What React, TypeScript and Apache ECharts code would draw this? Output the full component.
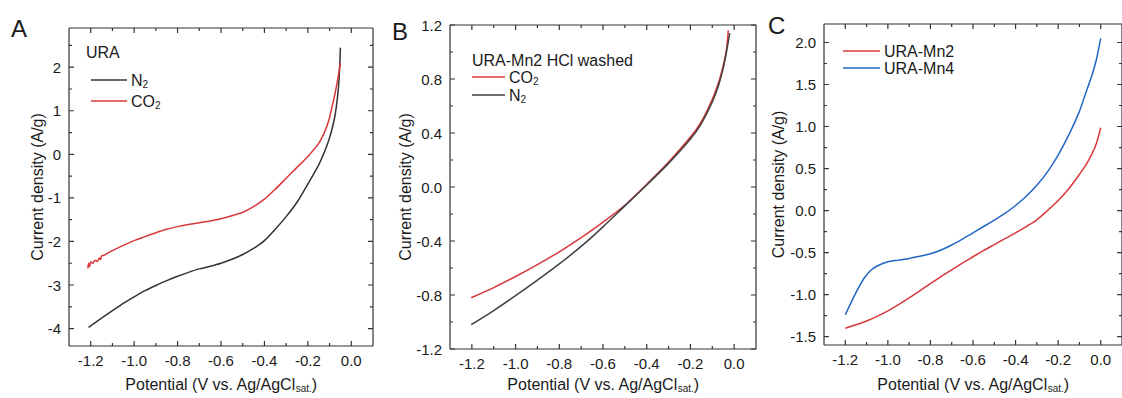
import React, { useEffect, useRef } from "react";
import * as echarts from "echarts";

const FONT = "Liberation Sans, Arial, Helvetica, sans-serif";
const TEXT = "#1a1a1a";
const AXIS = "#333333";
const RED = "#d8383a";
const BLACK = "#333333";
const GREY = "#404040";
const BLUE = "#2166c4";

// ticks
const xMajorTicks = [-1.2, -1.0, -0.8, -0.6, -0.4, -0.2, 0.0];
const xMinorTicks = [-1.1, -0.9, -0.7, -0.5, -0.3, -0.1];
const aYMajorTicks = [-4, -3, -2, -1, 0, 1, 2];
const aYMinorTicks = [-3.5, -2.5, -1.5, -0.5, 0.5, 1.5, 2.5];
const bYMajorTicks = [-1.2, -0.8, -0.4, 0, 0.4, 0.8, 1.2];
const bYMinorTicks = [-1.0, -0.6, -0.2, 0.2, 0.6, 1.0];
const cYMajorTicks = [-1.5, -1.0, -0.5, 0, 0.5, 1.0, 1.5, 2.0];
const cYMinorTicks = [-1.25, -0.75, -0.25, 0.25, 0.75, 1.25, 1.75];

// Panel A: URA
const aN2 = [
  [-1.21, -3.97], [-1.15, -3.76], [-1.1, -3.59], [-1.05, -3.42], [-1.0, -3.27],
  [-0.95, -3.13], [-0.9, -3.01], [-0.85, -2.9], [-0.8, -2.8], [-0.75, -2.71],
  [-0.7, -2.63], [-0.65, -2.57], [-0.6, -2.5], [-0.55, -2.41], [-0.5, -2.3],
  [-0.45, -2.16], [-0.4, -1.98], [-0.35, -1.72], [-0.3, -1.43], [-0.25, -1.1],
  [-0.2, -0.68], [-0.15, -0.24], [-0.12, 0.1], [-0.1, 0.38], [-0.08, 0.76],
  [-0.07, 1.05], [-0.06, 1.48], [-0.055, 1.85], [-0.05, 2.45],
];
const aCO2 = [
  [-1.213, -2.62], [-1.21, -2.5], [-1.205, -2.58], [-1.2, -2.47], [-1.19, -2.5],
  [-1.18, -2.43], [-1.17, -2.46], [-1.16, -2.38], [-1.155, -2.42], [-1.15, -2.33],
  [-1.14, -2.32], [-1.1, -2.21], [-1.05, -2.09], [-1.0, -1.98], [-0.95, -1.89],
  [-0.9, -1.8], [-0.85, -1.72], [-0.8, -1.66], [-0.75, -1.61], [-0.7, -1.57],
  [-0.65, -1.53], [-0.6, -1.48], [-0.55, -1.41], [-0.5, -1.33], [-0.45, -1.2],
  [-0.4, -1.03], [-0.35, -0.8], [-0.3, -0.55], [-0.25, -0.3], [-0.2, -0.05],
  [-0.15, 0.25], [-0.12, 0.55], [-0.1, 0.84], [-0.09, 1.06], [-0.08, 1.27],
  [-0.065, 1.65], [-0.05, 2.1],
];

// Panel B: URA-Mn2 HCl washed
const bCO2 = [
  [-1.203, -0.82], [-1.1, -0.745], [-1.0, -0.663], [-0.9, -0.575], [-0.8, -0.48],
  [-0.7, -0.375], [-0.6, -0.26], [-0.5, -0.135], [-0.4, 0.02], [-0.3, 0.185],
  [-0.2, 0.37], [-0.15, 0.485], [-0.1, 0.65], [-0.07, 0.78], [-0.05, 0.9],
  [-0.035, 1.02], [-0.027, 1.16],
];
const bN2 = [
  [-1.203, -1.02], [-1.1, -0.915], [-1.0, -0.805], [-0.9, -0.69], [-0.8, -0.57],
  [-0.7, -0.44], [-0.6, -0.295], [-0.5, -0.14], [-0.4, 0.015], [-0.3, 0.175],
  [-0.2, 0.355], [-0.15, 0.47], [-0.1, 0.63], [-0.07, 0.76], [-0.05, 0.88],
  [-0.035, 1.0], [-0.02, 1.14],
];

// Panel C
const cMn2 = [
  [-1.2, -1.4], [-1.15, -1.36], [-1.1, -1.315], [-1.05, -1.26], [-1.0, -1.195],
  [-0.95, -1.12], [-0.9, -1.04], [-0.85, -0.955], [-0.8, -0.87], [-0.75, -0.785],
  [-0.7, -0.705], [-0.65, -0.625], [-0.6, -0.55], [-0.55, -0.475], [-0.5, -0.405],
  [-0.45, -0.335], [-0.4, -0.265], [-0.35, -0.19], [-0.3, -0.11], [-0.25, 0.0],
  [-0.2, 0.12], [-0.15, 0.26], [-0.1, 0.43], [-0.07, 0.54], [-0.04, 0.68],
  [-0.02, 0.8], [0.0, 0.985],
];
const cMn4 = [
  [-1.2, -1.24], [-1.17, -1.08], [-1.14, -0.93], [-1.11, -0.8], [-1.08, -0.71],
  [-1.05, -0.66], [-1.0, -0.61], [-0.95, -0.59], [-0.9, -0.57], [-0.85, -0.545],
  [-0.8, -0.515], [-0.75, -0.47], [-0.7, -0.41], [-0.65, -0.34], [-0.6, -0.265],
  [-0.55, -0.19], [-0.5, -0.115], [-0.45, -0.035], [-0.4, 0.06], [-0.35, 0.17],
  [-0.3, 0.3], [-0.25, 0.46], [-0.2, 0.66], [-0.15, 0.9], [-0.1, 1.18],
  [-0.07, 1.4], [-0.04, 1.62], [-0.02, 1.8], [0.0, 2.05],
];

const X_RANGE: [number, number] = [-1.3, 0.1];
const A_Y: [number, number] = [-4.4, 2.9];
const B_Y: [number, number] = [-1.2, 1.2];
const C_Y: [number, number] = [-1.6, 2.22];

const X_NAME = "{a|Potential (V vs. Ag/AgCl}{s|sat.}{a|)}";
const Y_NAME = "Current density (A/g)";

const LEGEND_TEXT: Record<string, string> = {
  "URA N2": "{a|N}{s|2}",
  "URA CO2": "{a|CO}{s|2}",
  "URA-Mn2 HCl washed CO2": "{a|CO}{s|2}",
  "URA-Mn2 HCl washed N2": "{a|N}{s|2}",
  "URA-Mn2": "{a|URA-Mn2}",
  "URA-Mn4": "{a|URA-Mn4}",
};

const GRIDS = [
  { left: 69, top: 28, width: 304, height: 320 },
  { left: 450, top: 25, width: 306, height: 326 },
  { left: 824, top: 24, width: 305, height: 323 },
];

const f1 = (v: number) => v.toFixed(1);
const f0 = (v: number) => String(Math.round(v));

const richSub = {
  a: { fontSize: 16, fontFamily: FONT, color: TEXT, lineHeight: 18 },
  s: { fontSize: 10, fontFamily: FONT, color: TEXT, lineHeight: 8, verticalAlign: "bottom" },
};

function labelAxis(
  dim: "x" | "y",
  gi: number,
  range: [number, number],
  major: number[],
  fmt: (v: number) => string,
  nameGap: number
) {
  return {
    type: "value",
    gridIndex: gi,
    min: range[0],
    max: range[1],
    position: dim === "x" ? "bottom" : "left",
    name: dim === "x" ? X_NAME : Y_NAME,
    nameLocation: "middle",
    nameGap,
    nameRotate: dim === "x" ? 0 : 90,
    nameMoveOverlap: false,
    nameTextStyle: { fontSize: 16, fontFamily: FONT, color: TEXT, rich: dim === "x" ? richSub : undefined },
    splitLine: { show: false },
    axisLine: { show: false, onZero: false },
    axisTick: { show: false },
    axisLabel: {
      show: true,
      customValues: major,
      formatter: fmt,
      margin: dim === "x" ? 7 : 8,
      fontSize: 15,
      color: TEXT,
      fontFamily: FONT,
    },
  };
}

// One frame side with inward tick spikes, drawn as a polyline that runs along
// the edge and steps in and back out at each tick value.
function sideSeries(
  gi: number,
  side: "bottom" | "top" | "left" | "right",
  major: number[],
  minor: number[],
  xr: [number, number],
  yr: [number, number]
) {
  const g = GRIDS[gi];
  const MAJOR_PX = 5;
  const MINOR_PX = 3;
  const ticks = [
    ...major.map((v) => ({ v, px: MAJOR_PX })),
    ...minor.map((v) => ({ v, px: MINOR_PX })),
  ].sort((p, q) => p.v - q.v);
  const data: number[][] = [];
  if (side === "bottom" || side === "top") {
    const edge = side === "bottom" ? yr[0] : yr[1];
    const dir = side === "bottom" ? 1 : -1;
    const unit = (yr[1] - yr[0]) / g.height;
    data.push([xr[0], edge]);
    ticks.forEach(({ v, px }) => {
      data.push([v, edge], [v, edge + dir * px * unit], [v, edge]);
    });
    data.push([xr[1], edge]);
  } else {
    const edge = side === "left" ? xr[0] : xr[1];
    const dir = side === "left" ? 1 : -1;
    const unit = (xr[1] - xr[0]) / g.width;
    data.push([edge, yr[0]]);
    ticks.forEach(({ v, px }) => {
      data.push([edge, v], [edge + dir * px * unit, v], [edge, v]);
    });
    data.push([edge, yr[1]]);
  }
  return {
    type: "line",
    xAxisIndex: gi,
    yAxisIndex: gi,
    data,
    showSymbol: false,
    symbol: "none",
    smooth: false,
    clip: false,
    silent: true,
    z: 4,
    lineStyle: { color: AXIS, width: 1.2, join: "bevel", cap: "butt" },
    itemStyle: { color: AXIS },
  };
}

function frameFor(
  gi: number,
  yMajor: number[],
  yMinor: number[],
  yr: [number, number]
) {
  return [
    sideSeries(gi, "bottom", xMajorTicks, xMinorTicks, X_RANGE, yr),
    sideSeries(gi, "top", xMajorTicks, xMinorTicks, X_RANGE, yr),
    sideSeries(gi, "left", yMajor, yMinor, X_RANGE, yr),
    sideSeries(gi, "right", yMajor, yMinor, X_RANGE, yr),
  ];
}

function titleText(text: string, left: number, top: number, size: number) {
  return {
    text,
    left,
    top,
    padding: 0,
    textStyle: { fontSize: size, fontWeight: "normal", fontFamily: FONT, color: TEXT },
  };
}

function legendFor(names: string[], left: number, top: number, itemWidth: number, itemGap: number) {
  return {
    data: names,
    left,
    top,
    orient: "vertical",
    padding: 0,
    itemGap,
    itemWidth,
    itemHeight: 1.5,
    icon: "rect",
    selectedMode: false,
    formatter: (n: string) => LEGEND_TEXT[n] || n,
    textStyle: { fontSize: 16, fontFamily: FONT, color: TEXT, rich: richSub, padding: [0, 0, 0, -1] },
  };
}

export default function App() {
  const ref = useRef<HTMLDivElement>(null);
  useEffect(() => {
    if (!ref.current) return;
    const chart = echarts.init(ref.current, undefined, { renderer: "svg" });

    const xAxis = [
      labelAxis("x", 0, X_RANGE, xMajorTicks, f1, 29),
      labelAxis("x", 1, X_RANGE, xMajorTicks, f1, 26),
      labelAxis("x", 2, X_RANGE, xMajorTicks, f1, 30),
    ];
    const yAxis = [
      labelAxis("y", 0, A_Y, aYMajorTicks, f0, 24),
      labelAxis("y", 1, B_Y, bYMajorTicks, f1, 37),
      labelAxis("y", 2, C_Y, cYMajorTicks, f1, 38),
    ];

    const line = (name: string, data: number[][], gi: number, color: string) => ({
      type: "line",
      name,
      data,
      xAxisIndex: gi,
      yAxisIndex: gi,
      showSymbol: false,
      symbol: "none",
      smooth: 0.25,
      z: 3,
      lineStyle: { color, width: 1.5 },
      itemStyle: { color },
    });

    chart.setOption({
      animation: false,
      backgroundColor: "#ffffff",
      title: [
        titleText("A", 11, 16, 24),
        titleText("B", 392, 19, 24),
        titleText("C", 768, 13, 24),
        titleText("URA", 86, 44, 16),
        titleText("URA-Mn2 HCl washed", 472, 52, 16),
      ],
      legend: [
        legendFor(["URA N2", "URA CO2"], 91, 72, 36, 4),
        legendFor(["URA-Mn2 HCl washed CO2", "URA-Mn2 HCl washed N2"], 472, 69, 33, 1),
        legendFor(["URA-Mn2", "URA-Mn4"], 843, 43, 37, 1),
      ],
      grid: GRIDS.map((g) => ({ ...g, show: false })),
      xAxis,
      yAxis,
      series: [
        ...frameFor(0, aYMajorTicks, aYMinorTicks, A_Y),
        ...frameFor(1, bYMajorTicks, bYMinorTicks, B_Y),
        ...frameFor(2, cYMajorTicks, cYMinorTicks, C_Y),
        line("URA N2", aN2, 0, BLACK),
        line("URA CO2", aCO2, 0, RED),
        line("URA-Mn2 HCl washed CO2", bCO2, 1, RED),
        line("URA-Mn2 HCl washed N2", bN2, 1, GREY),
        line("URA-Mn2", cMn2, 2, RED),
        line("URA-Mn4", cMn4, 2, BLUE),
      ],
    });
    return () => chart.dispose();
  }, []);
  return <div ref={ref} style={{ position: "absolute", left: 0, top: 0, width: 1122, height: 398 }} />;
}
